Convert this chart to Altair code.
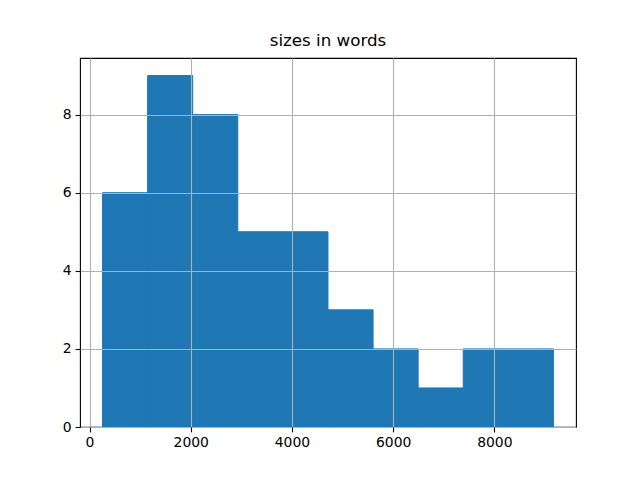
import altair as alt
import pandas as pd

bin_starts = [257, 1148, 2039, 2930, 3821, 4712, 5603, 6494, 7385, 8276]
bin_ends = [1148, 2039, 2930, 3821, 4712, 5603, 6494, 7385, 8276, 9167]
counts = [6, 9, 8, 5, 5, 3, 2, 1, 2, 2]
x_ticks = [0, 2000, 4000, 6000, 8000]
y_ticks = [0, 2, 4, 6, 8]

df = pd.DataFrame({"start": bin_starts, "end": bin_ends, "count": counts})

axis_common = dict(
    grid=True, gridColor="#b0b0b0", gridWidth=1.1,
    domain=False, ticks=True, tickColor="black", tickSize=4.9, tickWidth=1.1,
    labelFont="DejaVu Sans", labelFontSize=13.9, labelColor="black",
    labelPadding=4, title=None, zindex=1,
)

chart = alt.Chart(df).mark_rect(
    fill="#1f77b4", fillOpacity=1, stroke="#1f77b4", strokeOpacity=1, strokeWidth=1
).encode(
    x=alt.X("start:Q", scale=alt.Scale(domain=[-188, 9613], nice=False, zero=False),
            axis=alt.Axis(values=x_ticks, format="d", **axis_common)),
    x2="end:Q",
    y=alt.Y("count:Q", scale=alt.Scale(domain=[0, 9.45], nice=False),
            axis=alt.Axis(values=y_ticks, format="d", **axis_common)),
    y2=alt.datum(0),
).properties(
    width=496, height=369,
    title=alt.TitleParams("sizes in words", font="DejaVu Sans", fontSize=16.7,
                          fontWeight="normal", color="black", offset=8),
    autosize=alt.AutoSizeParams(type="none"),
    padding={"left": 72, "top": 50, "right": 56, "bottom": 45},
).configure_view(stroke="black", strokeWidth=1.1)

chart.save("out.html", embed_options={"renderer": "svg", "actions": False})
